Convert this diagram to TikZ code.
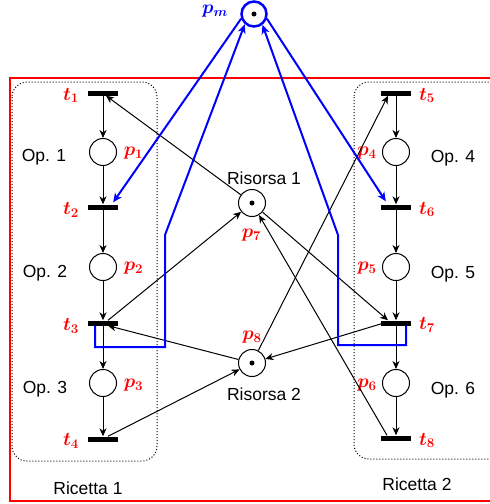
\RequirePackage{fix-cm}
\documentclass[tikz,border=0pt]{standalone}
\usepackage{fontspec}
\setsansfont{Liberation Sans}
\usetikzlibrary{arrows.meta}
\begin{document}
\begin{tikzpicture}[x=1pt,y=-1pt,
  bar/.style={draw=none,fill=black,minimum width=30pt,minimum height=5pt,inner sep=0pt},
  place/.style={circle,draw,line width=1pt,minimum size=27pt,inner sep=0pt},
  tok/.style={circle,fill=black,minimum size=5pt,inner sep=0pt},
  lbl/.style={text=red,font=\boldmath\fontsize{19}{21}\selectfont,inner sep=0pt},
  txt/.style={font=\sffamily\fontsize{17.5}{20}\selectfont,inner sep=0pt},
  arc/.style={draw,line width=1pt,-{Stealth[length=8pt,width=7pt,inset=2.5pt]}},
  blu/.style={draw=blue,line width=2pt,-{Stealth[length=9pt,width=8pt,inset=2.5pt]}},
  recipe/.style={draw,dotted,line width=1pt,rounded corners=15pt}
]
\useasboundingbox (0,0) rectangle (490,504);
\draw[red,line width=1.5pt] (10,78) rectangle (496,501);
\draw[recipe] (12,82) rectangle (157,461);
\draw[recipe] (354,82) rectangle (510,459);

% left column
\node[bar] (t1) at (103,93) {};
\node[place] (p1) at (103,152) {};
\node[bar] (t2) at (103,207) {};
\node[place] (p2) at (103,267) {};
\node[bar] (t3) at (103,323) {};
\node[place] (p3) at (103,383) {};
\node[bar] (t4) at (103,439) {};
% right column
\node[bar] (t5) at (396,93) {};
\node[place] (p4) at (396,152) {};
\node[bar] (t6) at (396,207) {};
\node[place] (p5) at (396,267) {};
\node[bar] (t7) at (396,323) {};
\node[place] (p6) at (396,383) {};
\node[bar] (t8) at (396,438) {};
% resources
\node[place] (p7) at (252,203) {};
\node[tok] (k7) at (p7) {};
\node[place] (p8) at (252,363) {};
\node[tok] (k8) at (p8) {};
\node[place,draw=blue,line width=2.5pt,minimum size=25pt] (pm) at (254,14) {};
\node[tok] (km) at (pm) {};

% labels
\node[lbl] (lt1) at (71,95.5) {$t_1$};
\node[lbl] (lt2) at (71,210) {$t_2$};
\node[lbl] (lt3) at (71,326) {$t_3$};
\node[lbl] (lt4) at (71,441) {$t_4$};
\node[lbl] (lt5) at (427,95.5) {$t_5$};
\node[lbl] (lt6) at (427,209.5) {$t_6$};
\node[lbl] (lt7) at (427,325) {$t_7$};
\node[lbl] (lt8) at (427,440.5) {$t_8$};
\node[lbl] (lp1) at (133.5,153.5) {$p_1$};
\node[lbl] (lp2) at (133.5,268) {$p_2$};
\node[lbl] (lp3) at (133.5,385.5) {$p_3$};
\node[lbl] (lp4) at (367,153) {$p_4$};
\node[lbl] (lp5) at (367,268.5) {$p_5$};
\node[lbl] (lp6) at (367,385) {$p_6$};
\node[lbl] (lp7) at (251.5,235) {$p_7$};
\node[lbl] (lp8) at (252,337.5) {$p_8$};
\node[lbl,text=blue] (lpm) at (215,11.5) {$p_m$};

\node[txt] (o1) at (44,157) {Op. 1};
\node[txt] (o2) at (45,273) {Op. 2};
\node[txt] (o3) at (45,389) {Op. 3};
\node[txt] (o4) at (453,158) {Op. 4};
\node[txt] (o5) at (453,274) {Op. 5};
\node[txt] (o6) at (453,390) {Op. 6};
\node[txt] (r1) at (264,178) {Risorsa 1};
\node[txt] (r2) at (264,394) {Risorsa 2};
\node[txt] (c1) at (88,488) {Ricetta 1};
\node[txt] (c2) at (417,484) {Ricetta 2};

% vertical flow
\draw[arc] (t1) -- (p1);
\draw[arc] (p1) -- (t2);
\draw[arc] (t2) -- (p2);
\draw[arc] (p2) -- (t3);
\draw[arc] (t3) -- (p3);
\draw[arc] (p3) -- (t4);
\draw[arc] (t5) -- (p4);
\draw[arc] (p4) -- (t6);
\draw[arc] (t6) -- (p5);
\draw[arc] (p5) -- (t7);
\draw[arc] (t7) -- (p6);
\draw[arc] (p6) -- (t8);

% resource arcs
\draw[arc] (p7) -- ([xshift=3pt]t1.south);
\draw[arc] ([xshift=5pt]t3.north) -- (p7);
\draw[arc] (p7) -- ([xshift=-8pt]t7.north);
\draw[arc] ([xshift=-9pt]t8.north) -- (p7);
\draw[arc] (p8) -- ([xshift=5pt]t3.south);
\draw[arc] ([xshift=5pt]t4.north) -- (p8);
\draw[arc] (p8) -- ([xshift=-8pt]t5.south);
\draw[arc] ([xshift=3pt]t7.west) -- (p8);

% blue monitor arcs
\coordinate (b1) at (95,347);
\coordinate (b2) at (165,347);
\coordinate (b3) at (165,235);
\coordinate (d1) at (406,345);
\coordinate (d2) at (338,345);
\coordinate (d3) at (338,235);
\draw[blu] (pm.200) -- ([xshift=-5pt,yshift=2pt]t2.north east);
\draw[blu] (pm.340) -- ([xshift=5pt,yshift=3pt]t6.north west);
\draw[blu] ([xshift=-8pt]t3.south) -- (b1) -- (b2) -- (b3) -- (pm.228);
\draw[blu] ([xshift=10pt]t7.south) -- (d1) -- (d2) -- (d3) -- (pm.308);
\end{tikzpicture}
\end{document}
